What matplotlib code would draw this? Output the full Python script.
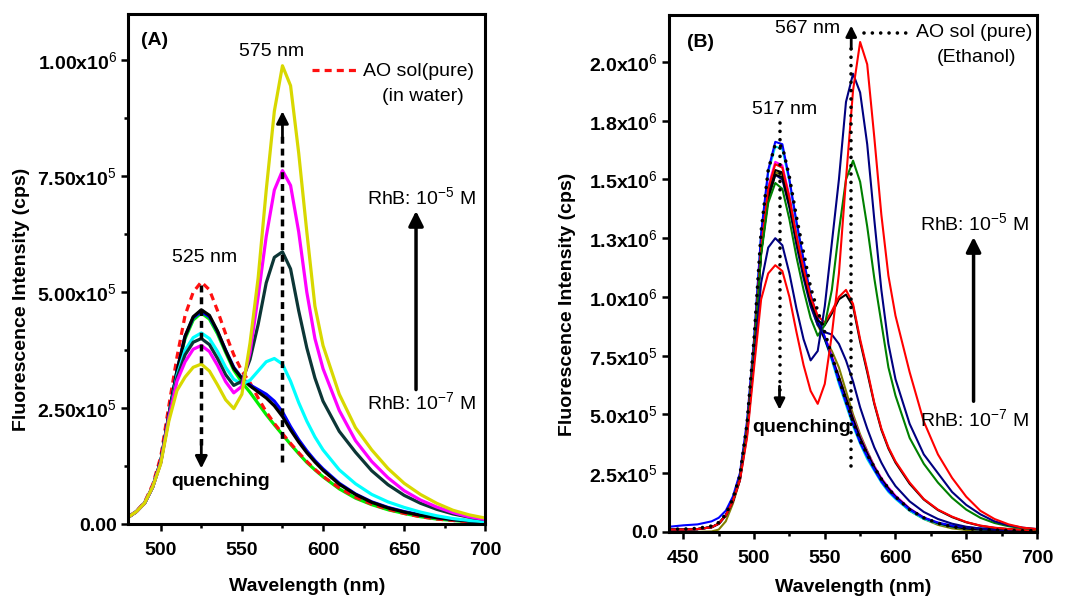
import matplotlib
matplotlib.use('Agg')
import matplotlib.pyplot as plt
import numpy as np

plt.rcParams['font.family'] = 'Liberation Sans'
plt.rcParams['mathtext.fontset'] = 'custom'
plt.rcParams['mathtext.rm'] = 'Liberation Sans'
plt.rcParams['mathtext.it'] = 'Liberation Sans:italic'
plt.rcParams['mathtext.bf'] = 'Liberation Sans:bold'

# ---- panel A data (AO in water), intensity in units of 1e5 cps ----
wl_a = [480, 485, 490, 495, 500, 505, 510, 515, 520, 525, 530, 535, 540, 545, 550, 555, 560, 565,
        570, 575, 580, 585, 590, 595, 600, 610, 620, 630, 640, 650, 660, 670, 680, 690, 700]
pure_a = [0.15, 0.28, 0.47, 0.85, 1.45, 2.55, 3.6, 4.5, 5.0, 5.22, 5.05, 4.6, 4.1, 3.65, 3.3, 3.05, 2.72, 2.42,
          2.17, 1.95, 1.74, 1.54, 1.35, 1.18, 1.03, 0.78, 0.58, 0.43, 0.32, 0.23, 0.16, 0.11, 0.08, 0.05, 0.03]
green_a = [0.15, 0.27, 0.45, 0.8, 1.35, 2.35, 3.3, 4.0, 4.4, 4.55, 4.42, 4.1, 3.7, 3.32, 3.06, 2.84, 2.6, 2.36,
           2.14, 1.93, 1.72, 1.52, 1.33, 1.17, 1.02, 0.76, 0.56, 0.42, 0.31, 0.23, 0.16, 0.11, 0.08, 0.05, 0.03]
blue_a = [0.15, 0.27, 0.45, 0.8, 1.35, 2.35, 3.3, 4.05, 4.45, 4.58, 4.47, 4.15, 3.75, 3.38, 3.15, 3.0, 2.9, 2.8,
          2.65, 2.42, 2.1, 1.82, 1.58, 1.37, 1.19, 0.88, 0.65, 0.48, 0.36, 0.27, 0.2, 0.14, 0.1, 0.07, 0.05]
black_a = [0.15, 0.27, 0.45, 0.8, 1.35, 2.35, 3.3, 4.05, 4.47, 4.62, 4.5, 4.16, 3.74, 3.36, 3.14, 2.98, 2.85, 2.72,
           2.55, 2.32, 2.03, 1.77, 1.54, 1.34, 1.16, 0.86, 0.64, 0.47, 0.35, 0.26, 0.19, 0.14, 0.1, 0.07, 0.05]
cyan_a = [0.15, 0.27, 0.45, 0.8, 1.33, 2.3, 3.2, 3.75, 4.02, 4.12, 4.0, 3.72, 3.38, 3.12, 3.02, 3.1, 3.3, 3.5,
          3.57, 3.45, 3.08, 2.62, 2.22, 1.88, 1.6, 1.17, 0.87, 0.64, 0.48, 0.36, 0.26, 0.18, 0.12, 0.08, 0.05]
teal_a = [0.15, 0.27, 0.45, 0.8, 1.33, 2.3, 3.15, 3.65, 3.92, 4.0, 3.87, 3.57, 3.22, 2.99, 3.08, 3.55, 4.3, 5.2,
          5.75, 5.87, 5.5, 4.6, 3.8, 3.15, 2.65, 2.0, 1.55, 1.15, 0.85, 0.62, 0.45, 0.32, 0.22, 0.15, 0.1]
magenta_a = [0.15, 0.27, 0.45, 0.8, 1.32, 2.28, 3.08, 3.5, 3.77, 3.85, 3.72, 3.42, 3.07, 2.83, 2.97, 3.7, 4.9, 6.2,
             7.2, 7.62, 7.3, 6.3, 5.0, 4.0, 3.35, 2.45, 1.8, 1.35, 1.0, 0.72, 0.52, 0.37, 0.25, 0.16, 0.1]
yellow_a = [0.15, 0.27, 0.45, 0.8, 1.3, 2.22, 2.88, 3.17, 3.38, 3.45, 3.3, 3.0, 2.68, 2.49, 2.8, 3.9, 5.3, 7.2,
            8.9, 9.88, 9.45, 8.0, 6.3, 4.7, 3.85, 2.8, 2.08, 1.6, 1.2, 0.88, 0.64, 0.45, 0.3, 0.2, 0.13]

# ---- panel B data (AO in ethanol), intensity in units of 1e5 cps ----
wl_b = [440, 450, 460, 470, 475, 480, 485, 490, 495, 500, 505, 510, 515, 520, 525, 530, 535, 540,
        545, 550, 555, 560, 565, 570, 575, 580, 585, 590, 595, 600, 610, 620, 630, 640, 650, 660,
        670, 680, 690, 700]
pure_b = [0.12, 0.12, 0.15, 0.25, 0.4, 0.75, 1.4, 2.4, 4.6, 8.2, 12.8, 15.4, 16.5, 16.4, 15.1, 13.4, 11.9, 10.4,
          9.4, 8.5, 7.5, 6.5, 5.6, 4.7, 3.9, 3.3, 2.75, 2.25, 1.85, 1.5, 0.95, 0.6, 0.37, 0.22, 0.14, 0.1,
          0.08, 0.06, 0.05, 0.05]
blue_b = [0.22, 0.28, 0.32, 0.45, 0.6, 0.9, 1.5, 2.5, 4.7, 8.2, 12.7, 15.4, 16.6, 16.5, 15.0, 13.2, 11.6, 10.1,
          9.1, 8.3, 7.4, 6.4, 5.5, 4.6, 3.8, 3.2, 2.65, 2.15, 1.75, 1.45, 0.95, 0.6, 0.4, 0.27, 0.2, 0.15,
          0.12, 0.1, 0.08, 0.08]
cyan_b = [0.1, 0.1, 0.12, 0.2, 0.35, 0.7, 1.35, 2.35, 4.5, 8.1, 12.6, 15.3, 16.4, 16.3, 14.9, 13.1, 11.5, 10.0,
          9.0, 8.2, 7.3, 6.3, 5.4, 4.5, 3.75, 3.1, 2.6, 2.1, 1.7, 1.4, 0.9, 0.55, 0.35, 0.22, 0.14, 0.1,
          0.08, 0.06, 0.05, 0.05]
magenta_b = [0.1, 0.1, 0.12, 0.2, 0.35, 0.7, 1.35, 2.3, 4.4, 7.9, 12.2, 14.7, 15.75, 15.6, 14.3, 12.7, 11.2, 9.9,
             9.0, 8.3, 7.5, 6.6, 5.7, 4.85, 4.05, 3.4, 2.8, 2.3, 1.9, 1.55, 1.0, 0.62, 0.38, 0.24, 0.15, 0.1,
             0.08, 0.06, 0.05, 0.05]
black_b = [0.1, 0.1, 0.12, 0.2, 0.35, 0.7, 1.3, 2.3, 4.4, 7.8, 12.0, 14.4, 15.4, 15.3, 14.1, 12.5, 11.1, 9.8,
           8.9, 8.2, 7.4, 6.6, 5.7, 4.8, 4.0, 3.35, 2.75, 2.25, 1.85, 1.5, 0.98, 0.6, 0.37, 0.23, 0.14, 0.1,
           0.08, 0.06, 0.05, 0.05]
olive_b = [0.0, 0.0, 0.0, 0.02, 0.1, 0.45, 1.2, 2.2, 4.3, 7.7, 11.9, 14.3, 15.3, 15.2, 14.0, 12.4, 11.0, 9.7,
           8.8, 8.2, 7.7, 7.0, 6.0, 5.0, 4.15, 3.45, 2.8, 2.25, 1.8, 1.45, 0.9, 0.55, 0.3, 0.15, 0.08, 0.05,
           0.03, 0.02, 0.02, 0.02]
navy_sh_b = [0.1, 0.1, 0.12, 0.2, 0.35, 0.7, 1.3, 2.3, 4.4, 7.8, 11.9, 14.2, 15.2, 15.0, 13.8, 12.2, 10.8, 9.6,
             8.8, 8.5, 8.4, 8.0, 7.3, 6.4, 5.3, 4.4, 3.6, 2.95, 2.4, 1.95, 1.3, 0.85, 0.55, 0.35, 0.22, 0.14,
             0.1, 0.07, 0.06, 0.05]
red_mid_b = [0.1, 0.1, 0.12, 0.2, 0.35, 0.7, 1.3, 2.3, 4.4, 7.9, 12.1, 14.6, 15.65, 15.5, 14.2, 12.6, 11.2, 10.0,
             9.2, 8.9, 9.4, 10.0, 10.3, 9.7, 8.2, 6.9, 5.5, 4.4, 3.6, 3.0, 2.1, 1.4, 0.95, 0.65, 0.42, 0.27,
             0.18, 0.12, 0.09, 0.07]
black_mid_b = [0.1, 0.1, 0.12, 0.2, 0.35, 0.7, 1.3, 2.3, 4.4, 7.8, 11.9, 14.2, 15.2, 15.1, 13.9, 12.4, 11.0, 9.8,
               9.0, 8.8, 9.3, 9.9, 10.1, 9.6, 8.1, 6.8, 5.45, 4.35, 3.55, 2.95, 2.05, 1.38, 0.93, 0.63, 0.41, 0.26,
               0.17, 0.12, 0.09, 0.07]
green_b = [0.1, 0.1, 0.12, 0.2, 0.35, 0.7, 1.3, 2.25, 4.3, 7.7, 11.8, 14.0, 14.85, 14.6, 13.3, 11.7, 10.3, 9.1,
           8.35, 8.8, 10.3, 12.8, 15.0, 15.8, 14.9, 13.0, 10.8, 8.9, 7.0, 5.8, 4.0, 2.9, 2.1, 1.45, 0.95, 0.6,
           0.38, 0.24, 0.16, 0.1]
navy_lo_b = [0.1, 0.1, 0.12, 0.2, 0.35, 0.7, 1.3, 2.2, 4.1, 7.3, 10.6, 12.1, 12.5, 12.2, 11.0, 9.5, 8.2, 7.3,
             7.7, 9.6, 12.3, 15.0, 18.3, 19.5, 18.7, 16.5, 13.3, 10.3, 8.0, 6.5, 4.6, 3.3, 2.5, 1.7, 1.15, 0.75,
             0.45, 0.28, 0.18, 0.12]
red_hi_b = [0.1, 0.1, 0.12, 0.2, 0.35, 0.7, 1.3, 2.2, 4.0, 7.0, 9.9, 11.0, 11.35, 11.1, 10.0, 8.5, 7.1, 6.0,
            5.45, 6.3, 8.4, 11.0, 15.0, 18.8, 20.85, 19.9, 16.8, 13.5, 10.9, 9.2, 6.8, 4.7, 3.3, 2.3, 1.5, 0.9,
            0.55, 0.32, 0.18, 0.12]

# axis ticks and labels
xticks_a = [500, 550, 600, 650, 700]
yticks_a = [0, 2.5e5, 5.0e5, 7.5e5, 1.0e6]
ylabels_a = ['0.00', r'2.50x10$^{5}$', r'5.00x10$^{5}$', r'7.50x10$^{5}$', r'1.00x10$^{6}$']
xticks_b = [450, 500, 550, 600, 650, 700]
yticks_b = [0, 2.5e5, 5.0e5, 7.5e5, 1.0e6, 1.25e6, 1.5e6, 1.75e6, 2.0e6]
ylabels_b = ['0.0', r'2.5x10$^{5}$', r'5.0x10$^{5}$', r'7.5x10$^{5}$', r'1.0x10$^{6}$',
             r'1.3x10$^{6}$', r'1.5x10$^{6}$', r'1.8x10$^{6}$', r'2.0x10$^{6}$']

FS = 14
fig = plt.figure(figsize=(10.69, 5.99), dpi=100)
axA = fig.add_axes([0.120, 0.125, 0.334, 0.852])
axB = fig.add_axes([0.626, 0.112, 0.344, 0.863])


def s(v):
    return np.array(v) * 1e5


# panel A curves
lwA = 2.3
axA.plot(wl_a, s(green_a), color='#00ee00', lw=lwA)
axA.plot(wl_a, s(pure_a), color='#ff1010', lw=lwA, ls=(0, (2.2, 1.6)))
axA.plot(wl_a, s(blue_a), color='#0000ff', lw=lwA)
axA.plot(wl_a, s(black_a), color='#000000', lw=lwA)
axA.plot(wl_a, s(cyan_a), color='#00ffff', lw=lwA)
axA.plot(wl_a, s(teal_a), color='#0c3636', lw=lwA)
axA.plot(wl_a, s(magenta_a), color='#ff00ff', lw=lwA)
axA.plot(wl_a, s(yellow_a), color='#d8d800', lw=lwA)

# panel B curves
lwB = 1.5
axB.plot(wl_b, s(olive_b), color='#808000', lw=lwB)
axB.plot(wl_b, s(magenta_b), color='#ff00ff', lw=lwB)
axB.plot(wl_b, s(cyan_b), color='#00e0e0', lw=lwB)
axB.plot(wl_b, s(black_b), color='#000000', lw=lwB)
axB.plot(wl_b, s(blue_b), color='#0000ff', lw=lwB)
axB.plot(wl_b, s(navy_sh_b), color='#000080', lw=lwB)
axB.plot(wl_b, s(black_mid_b), color='#000000', lw=lwB)
axB.plot(wl_b, s(red_mid_b), color='#ff0000', lw=lwB)
axB.plot(wl_b, s(green_b), color='#008000', lw=lwB)
axB.plot(wl_b, s(navy_lo_b), color='#000080', lw=lwB)
axB.plot(wl_b, s(red_hi_b), color='#ff0000', lw=lwB)
axB.plot(wl_b, s(pure_b), color='#000000', lw=2.6, ls=(0, (0.01, 2.3)), dash_capstyle='round')

# axes styling
axA.set_xlim(480, 700)
axA.set_ylim(0, 1.1e6)
axB.set_xlim(440, 700)
axB.set_ylim(0, 2.2e6)
axA.set_xticks(xticks_a, [str(t) for t in xticks_a], fontsize=FS, fontweight='bold')
axA.set_xticks([525, 575, 625, 675], minor=True)
axA.set_yticks(yticks_a, ylabels_a, fontsize=FS, fontweight='bold')
axA.set_yticks([1.25e5, 3.75e5, 6.25e5, 8.75e5], minor=True)
axB.set_xticks(xticks_b, [str(t) for t in xticks_b], fontsize=FS, fontweight='bold')
axB.set_xticks([475, 525, 575, 625, 675], minor=True)
axB.set_yticks(yticks_b, ylabels_b, fontsize=FS, fontweight='bold')

for ax in (axA, axB):
    for sp in ax.spines.values():
        sp.set_linewidth(2.2)
    ax.tick_params(which='both', direction='out', width=1.8, top=False, right=False)
    ax.tick_params(which='major', length=5, pad=3)
    ax.tick_params(which='minor', length=3)
    ax.tick_params(axis='x', which='major', pad=8)
    ax.set_xlabel('Wavelength (nm)', fontsize=FS, fontweight='bold')
    ax.set_ylabel('Fluorescence Intensity (cps)', fontsize=FS, fontweight='bold')

axA.xaxis.set_label_coords(0.5, -0.105)
axA.yaxis.set_label_coords(-0.275, 0.44)
axB.xaxis.set_label_coords(0.5, -0.092)
axB.yaxis.set_label_coords(-0.253, 0.44)


def head(ax, x, y, dy, ms=18):
    ax.annotate('', xy=(x, y), xytext=(x, y - dy),
                arrowprops=dict(arrowstyle='-|>', color='k', lw=2, mutation_scale=ms,
                                shrinkA=0, shrinkB=0))


# panel A annotations
axA.text(488, 1.043e6, '(A)', fontsize=FS, fontweight='bold', ha='left', va='center')
axA.text(568, 1.019e6, '575 nm', fontsize=FS, ha='center', va='center')
axA.text(527, 0.575e6, '525 nm', fontsize=FS, ha='center', va='center')
axA.plot([593.5, 621.4], [0.978e6, 0.978e6], color='#ff1010', lw=2.3, ls=(0, (2.2, 1.6)))
axA.text(624.5, 0.976e6, 'AO sol(pure)', fontsize=FS, ha='left', va='center')
axA.text(661.5, 0.922e6, '(in water)', fontsize=FS, ha='center', va='center')
axA.text(660.5, 0.705e6, r'RhB: 10$^{-5}$ M', fontsize=FS, ha='center', va='center')
axA.text(660.5, 0.263e6, r'RhB: 10$^{-7}$ M', fontsize=FS, ha='center', va='center')
axA.annotate('', xy=(657.3, 0.675e6), xytext=(657.3, 0.29e6),
             arrowprops=dict(arrowstyle='-|>', color='k', lw=2.5, mutation_scale=22,
                             shrinkA=0, shrinkB=0))
axA.plot([575, 575], [0.134e6, 0.84e6], color='k', lw=2.5, ls=(0, (2, 1.4)))
head(axA, 575, 0.89e6, 0.06e6)
axA.plot([525, 525], [0.515e6, 0.17e6], color='k', lw=2.5, ls=(0, (2, 1.4)))
head(axA, 525, 0.12e6, -0.06e6)
axA.text(537, 0.091e6, 'quenching', fontsize=FS, fontweight='bold', ha='center', va='center')

# panel B annotations
axB.text(452.6, 2.083e6, '(B)', fontsize=FS, fontweight='bold', ha='left', va='center')
axB.text(538, 2.143e6, '567 nm', fontsize=FS, ha='center', va='center')
axB.plot([568.7, 568.7], [0.28e6, 2.09e6], color='k', lw=2.6, ls=(0, (0.01, 2.3)),
         dash_capstyle='round')
head(axB, 568.7, 2.155e6, 0.1e6, ms=16)
axB.plot([577.5, 610.7], [2.125e6, 2.125e6], color='k', lw=2.6, ls=(0, (0.01, 2.3)),
         dash_capstyle='round')
axB.text(614.3, 2.125e6, 'AO sol (pure)', fontsize=FS, ha='left', va='center')
axB.text(657.6, 2.018e6, '(Ethanol)', fontsize=FS, ha='center', va='center')
axB.text(521.4, 1.797e6, '517 nm', fontsize=FS, ha='center', va='center')
axB.plot([518, 518], [1.742e6, 0.58e6], color='k', lw=2.6, ls=(0, (0.01, 2.3)),
         dash_capstyle='round')
head(axB, 518, 0.52e6, -0.1e6, ms=16)
axB.text(533.5, 0.443e6, 'quenching', fontsize=FS, fontweight='bold', ha='center', va='center')
axB.text(656, 1.316e6, r'RhB: 10$^{-5}$ M', fontsize=FS, ha='center', va='center')
axB.text(656, 0.478e6, r'RhB: 10$^{-7}$ M', fontsize=FS, ha='center', va='center')
axB.annotate('', xy=(655.2, 1.255e6), xytext=(655.2, 0.556e6),
             arrowprops=dict(arrowstyle='-|>', color='k', lw=2.5, mutation_scale=22,
                             shrinkA=0, shrinkB=0))

fig.savefig('out.png', dpi=100)
